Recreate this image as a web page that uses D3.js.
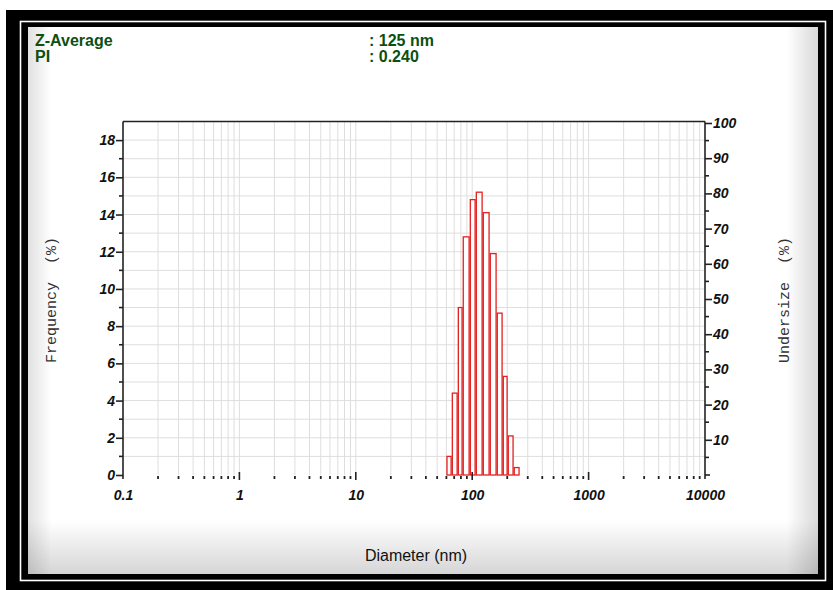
<!DOCTYPE html>
<html><head><meta charset="utf-8">
<script src="https://cdn.jsdelivr.net/npm/d3@7"></script>
<style>
html,body{margin:0;padding:0;background:#fff;}
svg{display:block;}
text{white-space:pre;}
</style></head>
<body>
<svg id="c" width="833" height="590"></svg>
<script>
// ---- data ----
const binEdges = [60.0, 66.7, 75.1, 82.8, 95.2, 107.2, 123.1, 141.3, 162.3, 182.8, 201.8, 227.1, 255.7]; // nm
const frequency = [1.0, 4.4, 9.0, 12.8, 14.8, 15.2, 14.1, 11.9, 8.7, 5.3, 2.1, 0.4]; // %
const xTickValues = [0.1, 1, 10, 100, 1000, 10000];
const xTickLabels = ["0.1", "1", "10", "100", "1000", "10000"];
const leftTicks = [0, 2, 4, 6, 8, 10, 12, 14, 16, 18];
const rightTicks = [10, 20, 30, 40, 50, 60, 70, 80, 90, 100];
const infoLabels = ["Z-Average", "PI"];
const infoValues = [": 125 nm", ": 0.240"];

const svg = d3.select("#c");
const defs = svg.append("defs");

// frame
svg.append("rect").attr("x", 6).attr("y", 10).attr("width", 827).attr("height", 580).attr("fill", "#000");
svg.append("rect").attr("x", 20.5).attr("y", 21.5).attr("width", 805).attr("height", 559)
  .attr("fill", "none").attr("stroke", "#fff").attr("stroke-width", 1.6);
const g1 = defs.append("linearGradient").attr("id", "gv").attr("x1", 0).attr("y1", 0).attr("x2", 0).attr("y2", 1);
g1.append("stop").attr("offset", "0").attr("stop-color", "#fff");
g1.append("stop").attr("offset", "0.9").attr("stop-color", "#fff");
g1.append("stop").attr("offset", "1").attr("stop-color", "#d4d4d4");
const g2 = defs.append("linearGradient").attr("id", "gh").attr("x1", 0).attr("y1", 0).attr("x2", 1).attr("y2", 0);
g2.append("stop").attr("offset", "0").attr("stop-color", "#000").attr("stop-opacity", 0.12);
g2.append("stop").attr("offset", "0.03").attr("stop-color", "#000").attr("stop-opacity", 0);
g2.append("stop").attr("offset", "0.96").attr("stop-color", "#000").attr("stop-opacity", 0);
g2.append("stop").attr("offset", "1").attr("stop-color", "#000").attr("stop-opacity", 0.15);
svg.append("rect").attr("x", 26).attr("y", 25).attr("width", 794).attr("height", 551)
  .attr("fill", "url(#gv)").attr("stroke", "#000").attr("stroke-width", 4);
svg.append("rect").attr("x", 28).attr("y", 27).attr("width", 790).attr("height", 547)
  .attr("fill", "url(#gh)");

// info text
const infoFont = "'Liberation Sans',Arial,sans-serif";
infoLabels.forEach((t, i) => {
  svg.append("text").attr("x", 35).attr("y", 46 + i * 16).text(t)
    .attr("font-family", infoFont).attr("font-weight", "bold").attr("font-size", 16).attr("fill", "#0c4f10");
  svg.append("text").attr("x", 369).attr("y", 46 + i * 16).text(infoValues[i])
    .attr("font-family", infoFont).attr("font-weight", "bold").attr("font-size", 16).attr("fill", "#0c4f10");
});

// scales
const L = 123, R = 705, T = 121.5, B = 475;
const x = d3.scaleLog().domain([0.1, 10000]).range([L, R]);
const yL = d3.scaleLinear().domain([0, 19]).range([B, T]);
const yR = d3.scaleLinear().domain([0, 100]).range([B, T + 1.5]);

// grid
const minorX = [];
for (let d = 0.1; d < 10000; d *= 10) for (let k = 1; k < 10; k++) minorX.push(+(d * k).toPrecision(3));
svg.append("g").selectAll("line").data(minorX.filter(v => v > 0.1)).join("line")
  .attr("x1", d => x(d)).attr("x2", d => x(d)).attr("y1", T).attr("y2", B)
  .attr("stroke", "#dedede").attr("stroke-width", 1);
svg.append("g").selectAll("line").data(d3.range(1, 19)).join("line")
  .attr("x1", L).attr("x2", R).attr("y1", d => yL(d)).attr("y2", d => yL(d))
  .attr("stroke", "#dedede").attr("stroke-width", 1);

// bars
const bars = frequency.map((f, i) => ({ x0: binEdges[i], x1: binEdges[i + 1], f }));
svg.append("g").selectAll("rect").data(bars).join("rect")
  .attr("x", d => x(d.x0) + 0.6).attr("width", d => x(d.x1) - x(d.x0) - 1.2)
  .attr("y", d => yL(d.f)).attr("height", d => B - yL(d.f))
  .attr("fill", "#fff").attr("stroke", "#e3201f").attr("stroke-width", 1.3);

// axes
const tickFont = "'Liberation Sans',Arial,sans-serif";
const axL = svg.append("g").attr("transform", `translate(${L},0)`)
  .call(d3.axisLeft(yL).tickValues(leftTicks).tickSize(7).tickPadding(1).tickFormat(d3.format("d")));
axL.select(".domain").remove();
axL.append("line").attr("x1", 0).attr("x2", 0).attr("y1", T).attr("y2", B + 4).attr("stroke", "#222").attr("stroke-width", 1.6);
axL.selectAll(".tick line").attr("stroke", "#222").attr("stroke-width", 1.6);
axL.selectAll("text").attr("font-family", tickFont).attr("font-size", 14).attr("font-weight", "bold")
  .attr("font-style", "italic").attr("fill", "#111");
axL.selectAll("line.mn").data(d3.range(1, 19, 2)).join("line").attr("class", "mn")
  .attr("x1", -4).attr("x2", 0).attr("y1", d => yL(d)).attr("y2", d => yL(d)).attr("stroke", "#222").attr("stroke-width", 1.6);

const axR = svg.append("g").attr("transform", `translate(${R},0)`)
  .call(d3.axisRight(yR).tickValues(rightTicks).tickSize(7).tickPadding(1).tickFormat(d3.format("d")));
axR.select(".domain").remove();
axR.append("line").attr("x1", 0).attr("x2", 0).attr("y1", T).attr("y2", B + 4).attr("stroke", "#222").attr("stroke-width", 1.6);
axR.append("line").attr("x1", 0).attr("x2", 5).attr("y1", B).attr("y2", B).attr("stroke", "#222").attr("stroke-width", 1.6);
axR.selectAll(".tick line").attr("stroke", "#222").attr("stroke-width", 1.6);
axR.selectAll("text").attr("font-family", tickFont).attr("font-size", 14).attr("font-weight", "bold")
  .attr("font-style", "italic").attr("fill", "#111");
axR.selectAll("line.mn").data(d3.range(5, 100, 10)).join("line").attr("class", "mn")
  .attr("x1", 0).attr("x2", 4).attr("y1", d => yR(d)).attr("y2", d => yR(d)).attr("stroke", "#222").attr("stroke-width", 1.6);

// top border
svg.append("line").attr("x1", L).attr("x2", R).attr("y1", T).attr("y2", T).attr("stroke", "#222").attr("stroke-width", 1.6);

// bottom axis
const axB = svg.append("g").attr("transform", `translate(0,${B})`)
  .call(d3.axisBottom(x).tickValues(xTickValues).tickSize(0).tickPadding(15)
    .tickFormat((d, i) => xTickLabels[i]));
axB.select(".domain").remove();
axB.selectAll("text").attr("font-family", tickFont).attr("font-size", 14).attr("font-weight", "bold")
  .attr("font-style", "italic").attr("fill", "#111");
axB.selectAll("line.mn").data(minorX.filter(v => v > 0.1 && ![1, 10, 100, 1000].includes(v))).join("line").attr("class", "mn")
  .attr("x1", d => x(d)).attr("x2", d => x(d)).attr("y1", 1).attr("y2", 4).attr("stroke", "#222").attr("stroke-width", 1.8);
axB.selectAll("line.mj").data([1, 10, 100, 1000]).join("line").attr("class", "mj")
  .attr("x1", d => x(d)).attr("x2", d => x(d)).attr("y1", -3).attr("y2", 5).attr("stroke", "#222").attr("stroke-width", 1.6);

// axis titles
const monoFont = "'Liberation Mono','DejaVu Sans Mono',monospace";
svg.append("text").attr("transform", "translate(56,300) rotate(-90)").attr("text-anchor", "middle")
  .attr("font-family", monoFont).attr("font-size", 15).attr("fill", "#333")
  .text("Frequency  (%)");
svg.append("text").attr("transform", "translate(789,300) rotate(-90)").attr("text-anchor", "middle")
  .attr("font-family", monoFont).attr("font-size", 15).attr("fill", "#333")
  .text("Undersize  (%)");
svg.append("text").attr("x", 416).attr("y", 561).attr("text-anchor", "middle")
  .attr("font-family", infoFont).attr("font-size", 16).attr("fill", "#111")
  .text("Diameter (nm)");
</script>
</body></html>
